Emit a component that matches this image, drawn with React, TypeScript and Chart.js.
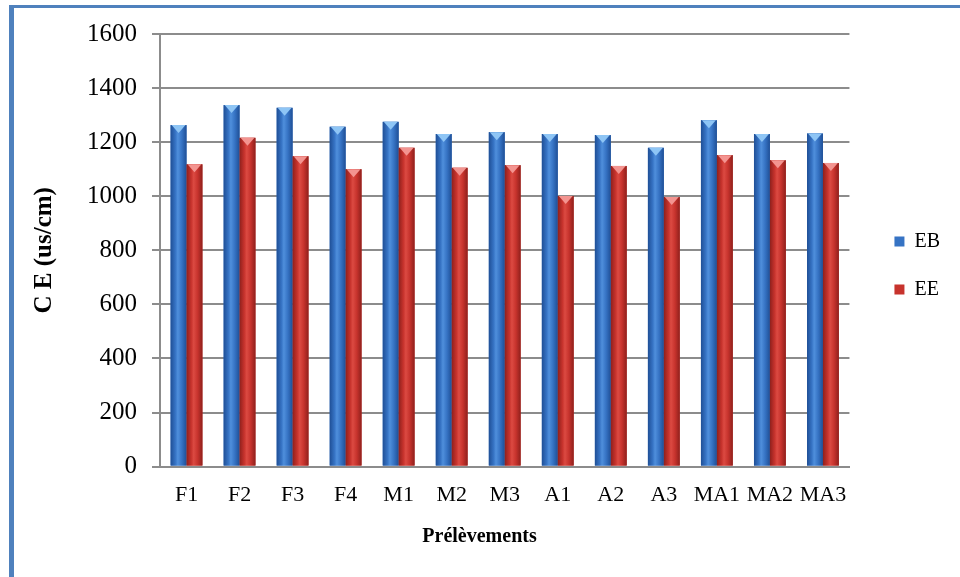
import { useEffect, useRef } from "react";
import { Chart, registerables } from "chart.js";
Chart.register(...registerables);

const categories = ["F1", "F2", "F3", "F4", "M1", "M2", "M3", "A1", "A2", "A3", "MA1", "MA2", "MA3"];
const ebValues = [1263, 1337, 1327, 1257, 1275, 1230, 1237, 1230, 1226, 1179, 1281, 1230, 1232];
const eeValues = [1118, 1216, 1148, 1100, 1179, 1105, 1115, 1001, 1112, 997, 1152, 1133, 1123];
const seriesNames = ["EB", "EE"];
const yMin = 0;
const yMax = 1600;
const yStep = 200;
const yTitle = "C E (us/cm)";
const xTitle = "Prélèvements";

const SERIF = "'Times New Roman', 'Liberation Serif', serif";

const styles = [
  { base: "#3673c4", edge: "#1f4f96", mid: "#4f8fdc", cap: "#8ec5f5" },
  { base: "#c7332d", edge: "#8f201c", mid: "#dc4a42", cap: "#f39490" },
];

const cylinderPlugin = {
  id: "cylinder",
  afterDatasetsDraw(chart: any) {
    const ctx = chart.ctx;
    chart.data.datasets.forEach((_: any, di: number) => {
      const meta = chart.getDatasetMeta(di);
      const st = styles[di];
      meta.data.forEach((bar: any) => {
        const { x, y, base, width } = bar.getProps(["x", "y", "base", "width"], true);
        const l = x - width / 2;
        const r = x + width / 2;
        const g = ctx.createLinearGradient(l, 0, r, 0);
        g.addColorStop(0, st.edge);
        g.addColorStop(0.3, st.base);
        g.addColorStop(0.45, st.mid);
        g.addColorStop(0.7, st.base);
        g.addColorStop(1, st.edge);
        ctx.save();
        ctx.fillStyle = g;
        ctx.fillRect(l, y, width, base - y);
        ctx.beginPath();
        ctx.moveTo(l + 1, y);
        ctx.lineTo(r - 1, y);
        ctx.lineTo(x, y + 8);
        ctx.closePath();
        ctx.fillStyle = st.cap;
        ctx.fill();
        ctx.restore();
      });
    });
  },
};

const legendShift = {
  id: "legendShift",
  afterLayout(chart: any) {
    const lg = chart.legend;
    if (!lg) return;
    lg.top -= 31;
    lg.bottom -= 31;
    lg.left += 17;
    lg.right += 17;
  },
};

export default function App() {
  const ref = useRef<HTMLCanvasElement | null>(null);
  useEffect(() => {
    if (!ref.current) return;
    const chart = new Chart(ref.current, {
      type: "bar",
      data: {
        labels: categories,
        datasets: [
          { label: seriesNames[0], data: ebValues, backgroundColor: styles[0].base, borderWidth: 0 },
          { label: seriesNames[1], data: eeValues, backgroundColor: styles[1].base, borderWidth: 0 },
        ],
      },
      options: {
        responsive: false,
        animation: false,
        layout: { padding: { top: 34, left: 26, right: 27, bottom: 18 } },
        datasets: { bar: { categoryPercentage: 0.6, barPercentage: 1.0 } },
        plugins: {
          tooltip: { enabled: false },
          title: {
            display: true,
            position: "bottom",
            text: xTitle,
            color: "#000",
            font: { family: SERIF, size: 20, weight: "bold" },
            padding: { top: 2, bottom: 10 },
          },
          legend: {
            position: "right",
            align: "center",
            labels: {
              boxWidth: 10,
              boxHeight: 10,
              padding: 28,
              color: "#000",
              font: { family: SERIF, size: 20 },
            },
          },
        },
        scales: {
          x: {
            grid: { display: false, drawTicks: false },
            border: { display: true, color: "#8c8c8c", width: 2 },
            ticks: { color: "#000", font: { family: SERIF, size: 22 }, padding: 15, maxRotation: 0, autoSkip: false },
          },
          y: {
            min: yMin,
            max: yMax,
            ticks: { stepSize: yStep, color: "#000", font: { family: SERIF, size: 25 }, padding: 15, callback: (v: any) => String(v) },
            grid: { color: "#8c8c8c", lineWidth: 2, tickLength: 8 },
            border: { display: true, color: "#8c8c8c", width: 2 },
            title: { display: true, text: yTitle, color: "#000", font: { family: SERIF, size: 25, weight: "bold" }, padding: { bottom: 12 } },
          },
        },
      },
      plugins: [cylinderPlugin, legendShift],
    });
    return () => chart.destroy();
  }, []);
  return (
    <div style={{ position: "absolute", left: 0, top: 0, width: 960, height: 577, overflow: "hidden", background: "#fff" }}>
      <div
        style={{
          position: "absolute",
          left: 9,
          top: 5,
          width: 1100,
          height: 700,
          borderLeft: "5px solid #4f81bd",
          borderTop: "3px solid #4f81bd",
        }}
      />
      <canvas ref={ref} width={960} height={577} style={{ position: "absolute", left: 0, top: 0 }} />
    </div>
  );
}
